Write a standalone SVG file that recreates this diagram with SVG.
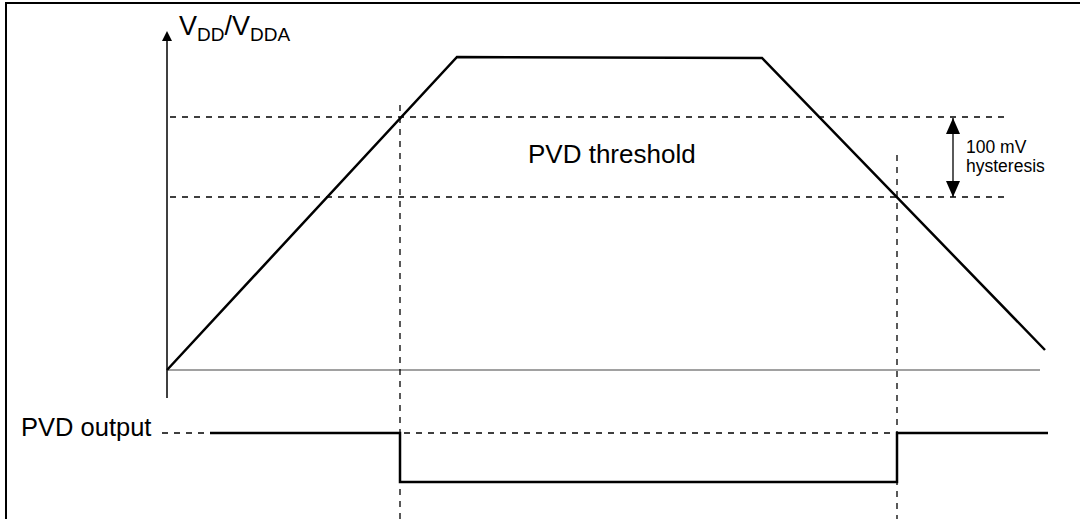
<svg xmlns="http://www.w3.org/2000/svg" width="1080" height="519" viewBox="0 0 1080 519">
<style>
.dash{stroke:#000;stroke-width:1.3;stroke-dasharray:6,6;fill:none}
.solid{stroke:#000;stroke-width:2.5;fill:none;stroke-linejoin:miter}
.t{font-family:"Liberation Sans",Arial,sans-serif;fill:#000}
</style>
<defs>
<marker id="ah" markerWidth="10" markerHeight="10" refX="5" refY="5" orient="auto" markerUnits="userSpaceOnUse" viewBox="0 0 10 10">
<path d="M0,0 L10,5 L0,10 Z" fill="#000"/>
</marker>
<marker id="ah2" markerWidth="16" markerHeight="16" refX="16" refY="7" orient="auto" markerUnits="userSpaceOnUse" viewBox="0 0 16 14">
<path d="M0,0 L16,7 L0,14 Z" fill="#000"/>
</marker>
</defs>
<rect x="0" y="0" width="1080" height="519" fill="#fff"/>
<g id="frame"><path d="M6,519 V3 H1080" fill="none" stroke="#000" stroke-width="2"/></g>
<g id="axes">
<line x1="167" y1="398" x2="167" y2="36" stroke="#000" stroke-width="1.5" marker-end="url(#ah)"/>
<line x1="167" y1="370" x2="1040" y2="370" stroke="#444" stroke-width="1.2"/>
</g>
<g id="connectors">
<line class="dash" x1="170" y1="117" x2="1010" y2="117"/>
<line class="dash" x1="170" y1="197" x2="1010" y2="197"/>
<line class="dash" x1="400" y1="105" x2="400" y2="519"/>
<line class="dash" x1="897" y1="155" x2="897" y2="519"/>
<line class="dash" x1="162" y1="433" x2="205" y2="433"/>
<line class="dash" x1="404" y1="433" x2="897" y2="433"/>
<line x1="953" y1="127" x2="953" y2="118" stroke="#000" stroke-width="1.3" marker-end="url(#ah2)"/>
<line x1="953" y1="188" x2="953" y2="197" stroke="#000" stroke-width="1.3" marker-end="url(#ah2)"/>
<line x1="953" y1="127" x2="953" y2="188" stroke="#000" stroke-width="1.3"/>
</g>
<g id="vdd-curve"><polyline class="solid" points="167,370 457,57 762,58 1045,350"/></g>
<g id="pvd-curve"><polyline class="solid" points="210,433 400,433 400,482 897,482 897,433 1048,433"/></g>
<g id="labels">
<text class="t" x="179" y="35" font-size="27">V<tspan font-size="19" dy="6">DD</tspan><tspan dy="-6">/V</tspan><tspan font-size="19" dy="6">DDA</tspan></text>
<text class="t" x="528" y="163" font-size="26">PVD threshold</text>
<text class="t" x="966" y="153" font-size="17.5">100 mV</text>
<text class="t" x="966" y="172" font-size="17.5">hysteresis</text>
<text class="t" x="21" y="436" font-size="25.5">PVD output</text>
</g>
</svg>
